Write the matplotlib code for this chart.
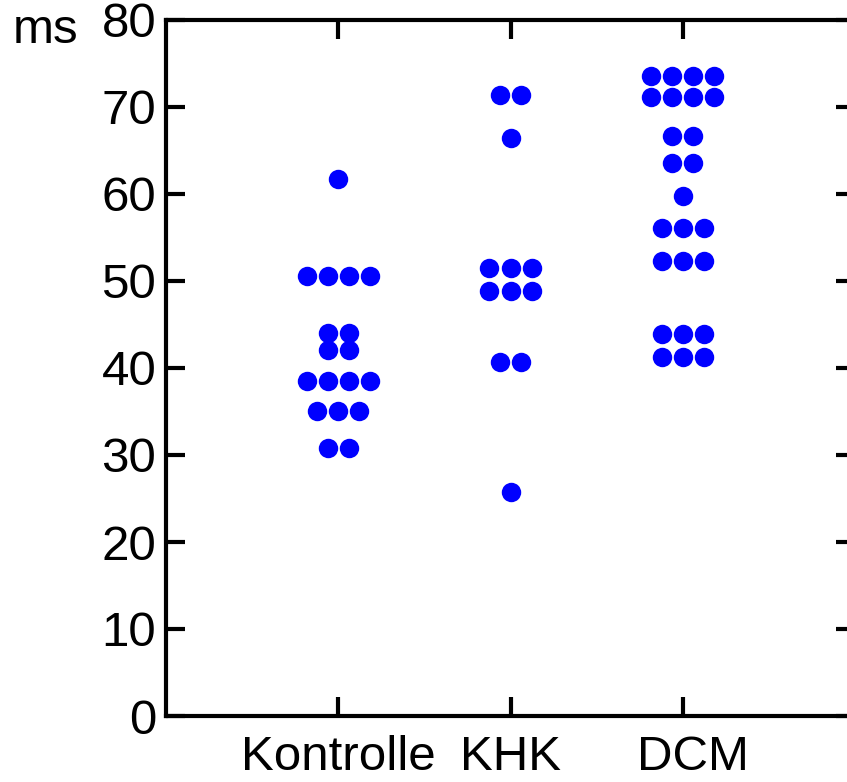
import numpy as np
import matplotlib.pyplot as plt
from matplotlib.transforms import ScaledTranslation

plt.rcParams['font.family'] = ['Liberation Sans', 'DejaVu Sans']

# values (ms), one entry per dot
groups = ['Kontrolle', 'KHK', 'DCM']
kontrolle = [61.7,
             50.6, 50.6, 50.6, 50.6,
             44.0, 44.0,
             42.1, 42.1,
             38.5, 38.5, 38.5, 38.5,
             35.1, 35.1, 35.1,
             30.8, 30.8]
khk = [71.4, 71.4,
       66.4,
       51.5, 51.5, 51.5,
       48.8, 48.8, 48.8,
       40.7, 40.7,
       25.7]
dcm = [73.6, 73.6, 73.6, 73.6,
       71.1, 71.1, 71.1, 71.1,
       66.7, 66.7,
       63.6, 63.6,
       59.8,
       56.05, 56.05, 56.05,
       52.3, 52.3, 52.3,
       43.9, 43.9, 43.9,
       41.3, 41.3, 41.3]
yticks = [0, 10, 20, 30, 40, 50, 60, 70, 80]

fig = plt.figure(figsize=(8.47, 7.82), dpi=100)
ax = fig.add_axes([166/847, 66/782, 689/847, 696/782])

spacing = 0.122  # horizontal distance between dots in one row
for i, vals in enumerate([kontrolle, khk, dcm]):
    vals = np.array(vals)
    for v in np.unique(vals):
        n = np.sum(vals == v)
        xs = i + 1 + (np.arange(n) - (n - 1) / 2) * spacing
        ax.plot(xs, [v] * n, 'o', color='#0000ff', markersize=14, markeredgewidth=0)

ax.set_xlim(0, 4)
ax.set_ylim(0, 80)
ax.set_xticks([1, 2, 3])
ax.set_xticklabels(groups)
ax.set_yticks(yticks)
ax.tick_params(direction='in', length=13.5, width=3, labelsize=35.5,
               top=True, right=True)
ax.tick_params(axis='y', pad=7)
ax.tick_params(axis='x', pad=14)
for s in ax.spines.values():
    s.set_linewidth(3)

# DCM label sits a bit right of its tick in the original
lbl = ax.get_xticklabels()[2]
lbl.set_transform(lbl.get_transform() + ScaledTranslation(10/100, 0, fig.dpi_scale_trans))

fig.text(13/847, 1 - 43/782, 'ms', fontsize=35.5, ha='left', va='baseline')

fig.savefig('out.png', dpi=100)
